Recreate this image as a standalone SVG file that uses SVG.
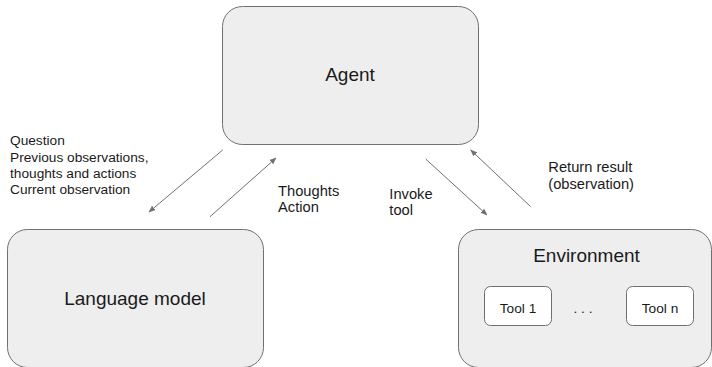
<svg xmlns="http://www.w3.org/2000/svg" width="712" height="367" viewBox="0 0 712 367">
<style>
.box{fill:#eeeeee;stroke:#6f6f6f;stroke-width:1}
.tool{fill:#ffffff;stroke:#6f6f6f;stroke-width:1}
.big{font-family:"Liberation Sans",Arial,sans-serif;font-size:19px;fill:#1a1a1a}
.sm{font-family:"Liberation Sans",Arial,sans-serif;font-size:13.7px;fill:#1a1a1a}
.lb{font-family:"Liberation Sans",Arial,sans-serif;font-size:14.7px;fill:#1a1a1a}
.conn{stroke:#707070;stroke-width:1;fill:none;marker-end:url(#ah)}
</style>
<defs>
<marker id="ah" viewBox="0 0 10 10" refX="9" refY="5" markerWidth="7" markerHeight="7" markerUnits="userSpaceOnUse" orient="auto">
<path d="M0,1 L10,5 L0,9 z" fill="#707070"/>
</marker>
</defs>
<rect width="712" height="367" fill="#ffffff"/>
<g id="agent">
<rect class="box" x="222.5" y="6.5" width="256" height="138" rx="20"/>
<text class="big" x="350" y="81" text-anchor="middle">Agent</text>
</g>
<g id="language-model">
<rect class="box" x="7.5" y="229.5" width="256" height="138" rx="20"/>
<text class="big" x="135" y="305" text-anchor="middle">Language model</text>
</g>
<g id="environment">
<rect class="box" x="458.5" y="229.5" width="253" height="138" rx="20"/>
<text class="big" x="586.5" y="261.5" text-anchor="middle">Environment</text>
</g>
<g id="tool-1">
<rect class="tool" x="484.5" y="286.5" width="67" height="39" rx="6"/>
<text class="sm" x="518" y="312.5" text-anchor="middle">Tool 1</text>
</g>
<g id="dots">
<text class="sm" x="583" y="312.5" text-anchor="middle">. . .</text>
</g>
<g id="tool-n">
<rect class="tool" x="626.5" y="286.5" width="67" height="39" rx="6"/>
<text class="sm" x="660" y="312.5" text-anchor="middle">Tool n</text>
</g>
<g id="connectors">
<line class="conn" x1="222.7" y1="150" x2="149" y2="212"/>
<line class="conn" x1="210" y1="216.7" x2="276" y2="158"/>
<line class="conn" x1="425.7" y1="159" x2="487" y2="215"/>
<line class="conn" x1="530.7" y1="206.7" x2="470.7" y2="150"/>
</g>
<g id="labels">
<text class="sm" x="10" y="145">Question</text>
<text class="sm" x="10" y="161.5">Previous observations,</text>
<text class="sm" x="10" y="177.5">thoughts and actions</text>
<text class="sm" x="10" y="194">Current observation</text>
<text class="lb" x="278" y="195.5">Thoughts</text>
<text class="lb" x="278" y="212">Action</text>
<text class="lb" x="389.3" y="198.5">Invoke</text>
<text class="lb" x="389.3" y="215">tool</text>
<text class="lb" x="548.3" y="172.3">Return result</text>
<text class="lb" x="548.3" y="188.5">(observation)</text>
</g>
</svg>
